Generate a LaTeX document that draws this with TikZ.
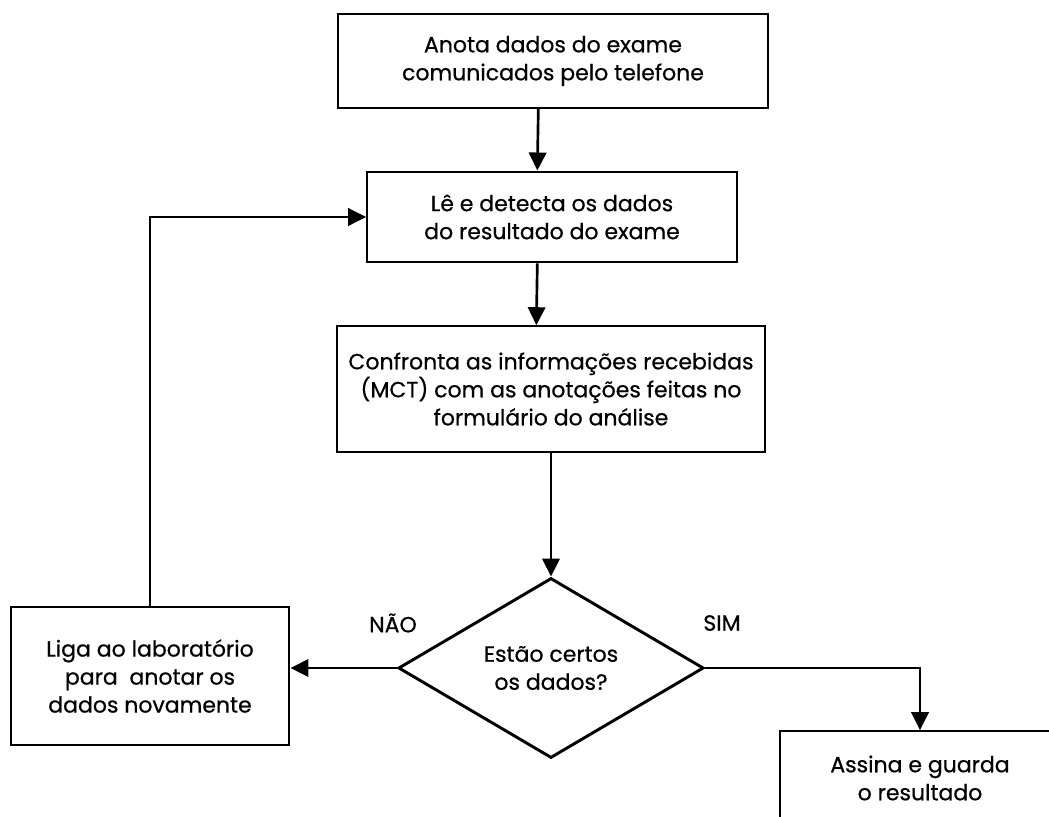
\documentclass[tikz,border=0pt]{standalone}
\usepackage{fontspec}
\setmainfont{Poppins}[UprightFeatures={FakeBold=0.6}]
\usetikzlibrary{arrows.meta,shapes.geometric}

\begin{document}
\begin{tikzpicture}[x=0.75pt, y=-0.75pt,
  every node/.style={font=\fontsize{16.5}{21}\selectfont, align=center, inner sep=2pt},
  stepbox/.style={draw, line width=1.7pt, rectangle},
  testbox/.style={draw, line width=2.2pt, diamond, inner sep=0pt, minimum width=229pt, minimum height=135pt},
  flow/.style={line width=2pt, -{Triangle[length=13.5pt, width=13pt]}}]
\useasboundingbox (0, 0) rectangle (1049, 817);
\clip (0, 0) rectangle (1049, 817);
% boxes
\node[stepbox, minimum width=323pt, minimum height=70pt] (anota) at (553, 61) {Anota dados do exame\\comunicados pelo telefone};
\node[stepbox, minimum width=277pt, minimum height=68pt] (le) at (552, 217) {Lê e detecta os dados\\do resultado do exame};
\node[stepbox, minimum width=321pt, minimum height=94pt] (confronta) at (551, 389) {Confronta as informações recebidas\\(MCT) com as anotações feitas no\\formulário do análise};
\node[testbox] (certos) at (551, 668) {Estão certos\\os dados?};
\node[stepbox, minimum width=209pt, minimum height=104pt] (liga) at (150, 676) {Liga ao laboratório\\para\ \ anotar os\\dados novamente};
\node[stepbox, minimum width=210pt, minimum height=70pt] (assina) at (920, 778) {Assina e guarda\\o resultado};
% labels
\node (nao) at (393, 623) {NÃO};
\node (sim) at (722, 623) {SIM};
% connectors
\draw[flow] ([xshift=-11pt]anota.south) -- ([xshift=-11pt]le.north);
\draw[flow] ([xshift=-11pt]le.south) -- ([xshift=-11pt]confronta.north);
\draw[flow] (confronta.south) -- (certos.north);
\draw[flow] (certos.west) -- (certos.west -| liga.east);
\draw[flow] (certos.east) -| (assina.north);
\draw[flow] (liga.north) |- (le.west);
\end{tikzpicture}
\end{document}
